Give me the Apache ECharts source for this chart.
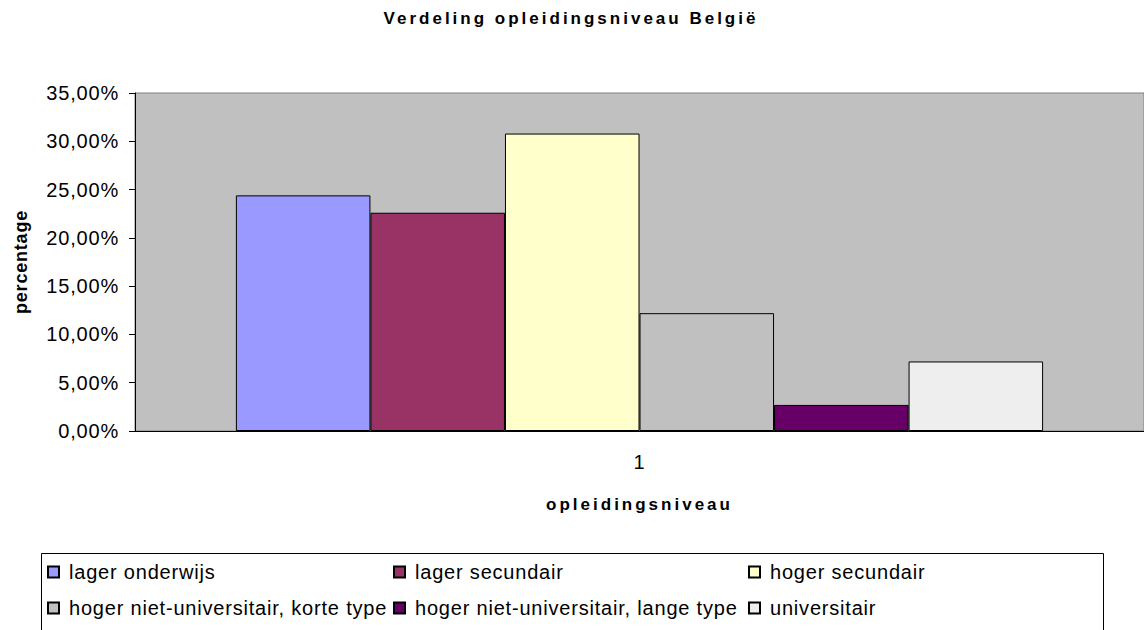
<!DOCTYPE html>
<html>
<head>
<meta charset="utf-8">
<script src="https://cdn.jsdelivr.net/npm/echarts@6/dist/echarts.min.js"></script>
<style>
  html, body { margin: 0; padding: 0; background: #fff; }
  #chart { width: 1144px; height: 630px; }
  /* excel-achtige spatiering van de tekst */
  #chart text { letter-spacing: 0.8px; }
  #chart text[style*="bold"] { letter-spacing: 3px; }
</style>
</head>
<body>
<div id="chart"></div>
<script>
// data
var categories = ["1"];
var seriesNames = [
  "lager onderwijs",
  "lager secundair",
  "hoger secundair",
  "hoger niet-universitair, korte type",
  "hoger niet-universitair, lange type",
  "universitair"
];
var seriesValues = [24.4, 22.6, 30.8, 12.2, 2.7, 7.2];
var seriesColors = ["#9999FF", "#993366", "#FFFFCC", "#C0C0C0", "#660066", "#EEEEEE"];

var chart = echarts.init(document.getElementById("chart"), null, { renderer: "svg" });
var font = "Liberation Sans, Arial, sans-serif";

// legenda posities (3 kolommen, 2 rijen)
var legendCols = [47, 393, 748];
var legendRows = [562, 598];

var legends = seriesNames.map(function (name, i) {
  return {
    data: [name],
    left: legendCols[i % 3],
    top: legendRows[Math.floor(i / 3)],
    icon: "rect",
    itemWidth: 11,
    itemHeight: 11,
    itemGap: 0,
    padding: 0,
    selectedMode: false,
    textStyle: { fontFamily: font, fontSize: 20, color: "#000", padding: [0, 0, 0, 5] }
  };
});

chart.setOption({
  animation: false,
  backgroundColor: "#fff",
  title: {
    text: "Verdeling opleidingsniveau België",
    left: 571,
    top: 10,
    padding: 0,
    textAlign: "center",
    textStyle: { fontFamily: font, fontSize: 17, fontWeight: "bold", color: "#000" }
  },
  legend: legends,
  graphic: [
    {
      type: "rect",
      left: 39,
      top: 551,
      shape: { width: 1062, height: 100 },
      style: { fill: "none", stroke: "#000", lineWidth: 1 },
      silent: true
    }
  ],
  grid: {
    left: 135,
    right: 0,
    top: 93,
    bottom: 199,
    show: true,
    backgroundColor: "#C0C0C0",
    borderColor: "#808080",
    borderWidth: 1
  },
  xAxis: {
    type: "category",
    data: categories,
    name: "opleidingsniveau",
    nameLocation: "middle",
    nameGap: 65,
    nameTextStyle: { fontFamily: font, fontSize: 17, fontWeight: "bold", color: "#000" },
    axisLine: { lineStyle: { color: "#000", width: 1 } },
    axisTick: { show: false },
    axisLabel: { fontFamily: font, fontSize: 20, color: "#000", margin: 21 }
  },
  yAxis: {
    type: "value",
    min: 0,
    max: 35,
    interval: 5,
    name: "percentage",
    nameLocation: "middle",
    nameGap: 105,
    nameTextStyle: { fontFamily: font, fontSize: 18, fontWeight: 700, color: "#000" },
    axisLine: { show: true, lineStyle: { color: "#000", width: 1 } },
    axisTick: { show: true, length: 6, lineStyle: { color: "#000" } },
    splitLine: { show: false },
    axisLabel: {
      fontFamily: font,
      fontSize: 20,
      color: "#000",
      margin: 16,
      formatter: function (v) {
        return v.toFixed(2).replace(".", ",") + "%";
      }
    }
  },
  series: seriesNames.map(function (name, i) {
    return {
      name: name,
      type: "bar",
      data: [seriesValues[i]],
      barGap: "0%",
      barCategoryGap: "20%",
      itemStyle: { color: seriesColors[i], borderColor: "#000", borderWidth: 1 }
    };
  })
});
</script>
</body>
</html>
